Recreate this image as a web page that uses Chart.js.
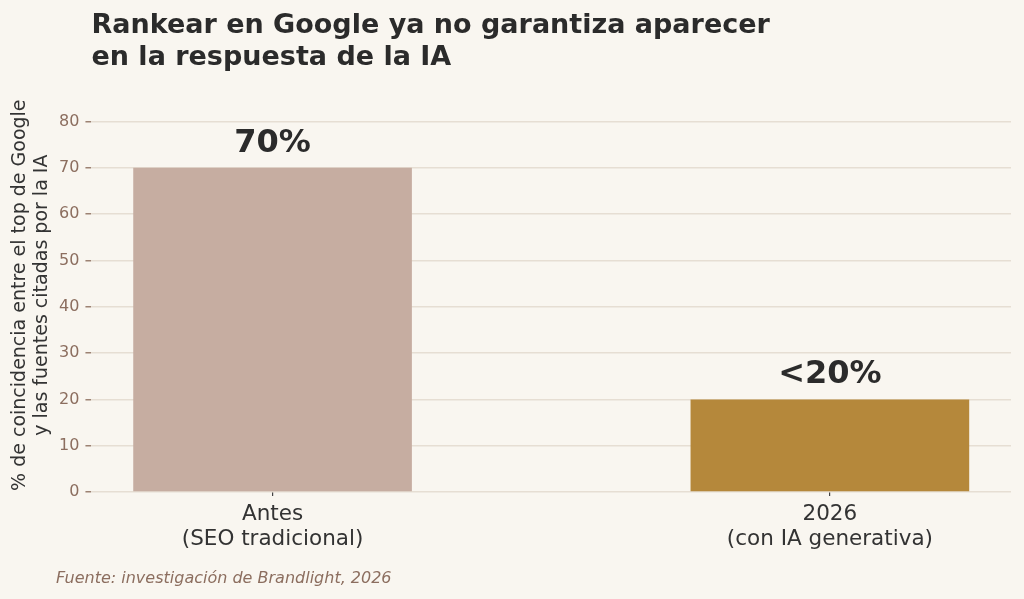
<!DOCTYPE html>
<html>
<head>
<meta charset="utf-8">
<script src="https://cdn.jsdelivr.net/npm/chart.js@4"></script>
<style>
  html, body { margin: 0; padding: 0; background: #f9f6f0; }
  #wrap { width: 1024px; height: 599px; }
</style>
</head>
<body>
<div id="wrap"><canvas id="myBarChart" width="1024" height="599"></canvas></div>
<script>
// categories and values
var categories = [["Antes", "(SEO tradicional)"], ["2026", "(con IA generativa)"]];
var values = [70, 20];
var valueLabels = ["70%", "<20%"];
var barColors = ["#c6ada1", "#b5883b"];
var yTicks = [0, 10, 20, 30, 40, 50, 60, 70, 80];

var titleLines = ["Rankear en Google ya no garantiza aparecer", "en la respuesta de la IA"];
var yTitle = ["% de coincidencia entre el top de Google", "y las fuentes citadas por la IA"];
var sourceNote = "Fuente: investigación de Brandlight, 2026";

var font = "DejaVu Sans";

// value labels above bars + source note
var extras = {
  id: "extras",
  afterDatasetsDraw: function (chart) {
    var ctx = chart.ctx;
    var meta = chart.getDatasetMeta(0);
    ctx.save();
    ctx.fillStyle = "#2b2b2b";
    ctx.font = "bold 32px '" + font + "'";
    ctx.textAlign = "center";
    ctx.textBaseline = "alphabetic";
    meta.data.forEach(function (bar, i) {
      ctx.fillText(valueLabels[i], bar.x, bar.y - 16);
    });
    ctx.font = "italic 16px '" + font + "'";
    ctx.fillStyle = "#8c6e5f";
    ctx.textAlign = "left";
    ctx.fillText(sourceNote, 56, 583);
    ctx.restore();
  }
};

new Chart("myBarChart", {
  type: "bar",
  data: {
    datasets: [
      {
        data: values.map(function (v, i) { return { x: i, y: v }; }),
        backgroundColor: barColors,
        borderWidth: 0,
        barPercentage: 0.5,
        categoryPercentage: 1,
      },
    ],
  },
  plugins: [extras],
  options: {
    responsive: false,
    animation: false,
    layout: {
      padding: { left: 9, right: 13, top: 10, bottom: 41 },
    },
    plugins: {
      legend: { display: false },
      tooltip: { enabled: false },
      title: {
        display: true,
        text: titleLines,
        align: "start",
        fullSize: false,
        color: "#2b2b2b",
        font: { family: font, size: 27, weight: "bold", lineHeight: 1.19 },
        padding: { top: 0, bottom: 24 },
      },
    },
    scales: {
      x: {
        type: "linear",
        min: -0.325,
        max: 1.325,
        offset: false,
        afterBuildTicks: function (scale) {
          scale.ticks = categories.map(function (c, i) { return { value: i }; });
        },
        ticks: {
          color: "#333333",
          font: { family: font, size: 21.5, lineHeight: 1.16 },
          padding: 6,
          maxRotation: 0,
          autoSkip: false,
          callback: function (value) { return categories[value]; },
        },
        grid: {
          offset: false,
          drawOnChartArea: false,
          drawTicks: true,
          tickLength: 4,
          tickColor: "#444444",
          lineWidth: 1.2,
        },
        border: { display: false },
      },
      y: {
        min: 0,
        max: 85,
        afterBuildTicks: function (scale) {
          scale.ticks = yTicks.map(function (v) { return { value: v }; });
        },
        ticks: {
          color: "#8c6e5f",
          font: { family: font, size: 16 },
          padding: 6,
        },
        grid: {
          color: "#e6ded3",
          lineWidth: 1.5,
          tickLength: 6,
          tickColor: "#9c8273",
        },
        border: { display: false },
        title: {
          display: true,
          text: yTitle,
          color: "#333333",
          font: { family: font, size: 19, lineHeight: 1.16 },
          padding: { top: 0, bottom: 0 },
        },
      },
    },
  },
});
</script>
</body>
</html>
